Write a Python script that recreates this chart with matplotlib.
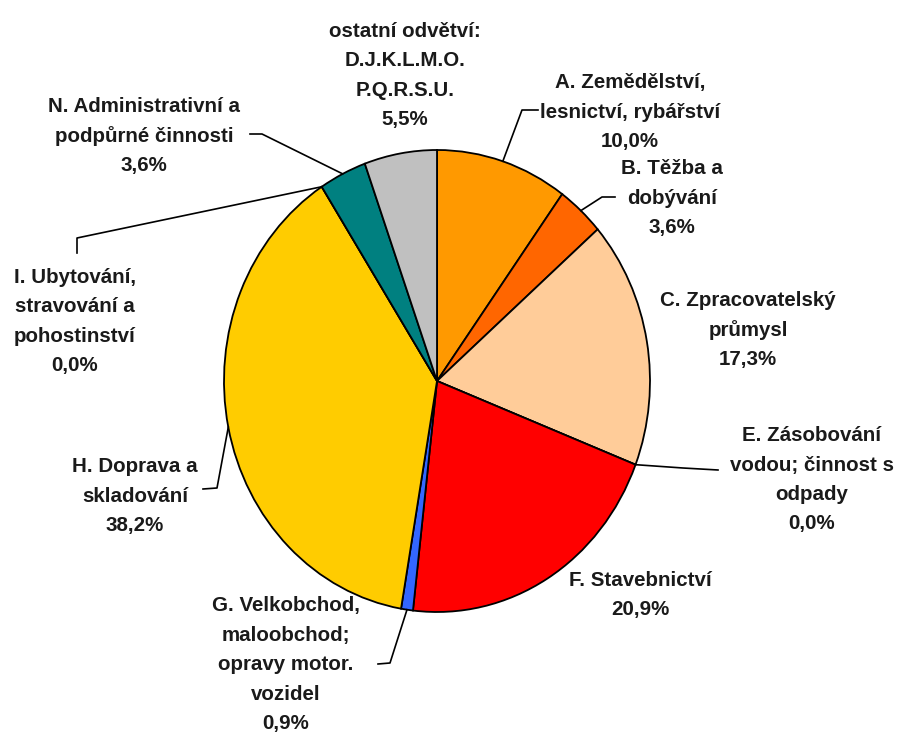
import numpy as np
import matplotlib
matplotlib.use("Agg")
import matplotlib.pyplot as plt

# data (clockwise from 12 o'clock)
labels = [
    "A. Zemědělství,\nlesnictví, rybářství",
    "B. Těžba a\ndobývání",
    "C. Zpracovatelský\nprůmysl",
    "E. Zásobování\nvodou; činnost s\nodpady",
    "F. Stavebnictví",
    "G. Velkobchod,\nmaloobchod;\nopravy motor.\nvozidel",
    "H. Doprava a\nskladování",
    "I. Ubytování,\nstravování a\npohostinství",
    "N. Administrativní a\npodpůrné činnosti",
    "ostatní odvětví:\nD.J.K.L.M.O.\nP.Q.R.S.U.",
]
values = [10.0, 3.6, 17.3, 0.0, 20.9, 0.9, 38.2, 0.0, 3.6, 5.5]
colors = ["#FF9900", "#FF6600", "#FFCC99", "#FFFFFF", "#FF0000",
          "#3366FF", "#FFCC00", "#FFFFFF", "#008080", "#C0C0C0"]

# layout in image pixels
W, H = 898, 735
CX, CY, RX, RY = 437, 381, 213, 231
# label: centre x, first baseline y
label_pos = [(630, 88), (672, 174), (748, 306), (812, 441), (640, 586),
             (286, 611), (135, 472), (75, 283), (144, 112), (405, 37)]
# leader elbows (None = no leader)
leaders = [[(522, 110), (538, 110)], [(602, 197), (615, 197)], None,
           [(683, 468), (718, 470)], None, [(390, 663), (378, 664)],
           [(217, 488), (203, 489)], [(77, 238), (77, 253)],
           [(262, 134), (250, 134)], None]
LINE_STEP = 29.5


def px(x, y):
    return (x - CX) / RX, (CY - y) / RY


fig = plt.figure(figsize=(W / 100, H / 100), dpi=100)
ax = fig.add_axes([0, 0, 1, 1])
wedges, _ = ax.pie(values, colors=colors, startangle=90, counterclock=False,
                   radius=1, wedgeprops=dict(edgecolor="black", linewidth=1.3))
ax.set_aspect("auto")
ax.set_xlim(px(0, 0)[0], px(W, 0)[0])
ax.set_ylim(px(0, H)[1], px(0, 0)[1])
ax.axis("off")

font = dict(family=["Liberation Sans", "DejaVu Sans"], fontweight="bold",
            fontsize=14.8, color="#1a1a1a")

for i, (lab, v) in enumerate(zip(labels, values)):
    lines = lab.split("\n") + [f"{v:.1f}%".replace(".", ",")]
    x0, y0 = label_pos[i]
    for k, ln in enumerate(lines):
        tx, ty = px(x0, y0 + k * LINE_STEP)
        ax.text(tx, ty, ln, ha="center", va="baseline", **font)
    if leaders[i] is not None:
        w = wedges[i]
        mid = np.deg2rad((w.theta1 + w.theta2) / 2)
        pts = [(np.cos(mid), np.sin(mid))] + [px(*p) for p in leaders[i]]
        xs, ys = zip(*pts)
        ax.plot(xs, ys, color="black", lw=1.2)

fig.savefig("out.png", dpi=100)
